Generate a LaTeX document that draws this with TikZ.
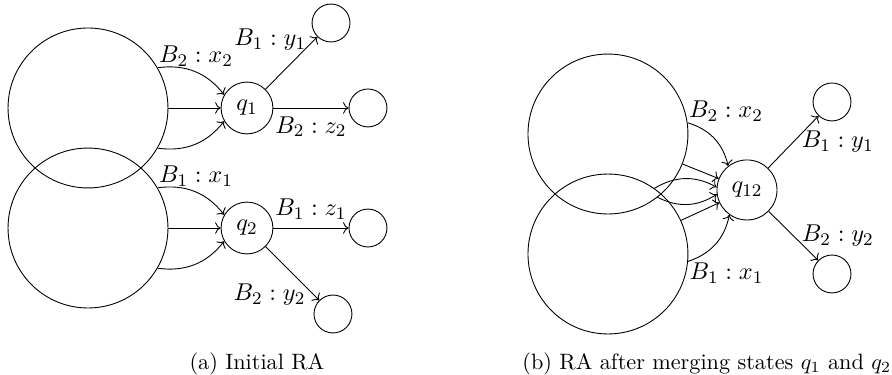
\documentclass[tikz,border=0pt,11pt]{standalone}
\usepackage{amsmath}
\usetikzlibrary{arrows.meta}

\begin{document}
\begin{tikzpicture}[
        bigstate/.style={draw, circle, minimum size=2.53cm},
        qstate/.style={draw, circle, minimum size=0.82cm, inner sep=1pt},
        sink/.style={draw, circle, minimum size=0.6cm},
        arr/.style={-{To}},
        tight/.style={inner sep=0.5pt},
        subcap/.style={font=\small}
]
    \useasboundingbox (0,0) rectangle (14.11,-5.93);

    % (a) initial automaton
    \node[bigstate] (big1) at (1.392,-1.708) {};
    \node[bigstate] (big2) at (1.392,-3.607) {};
    \node[qstate] (q1) at (3.907,-1.708) {$q_1$};
    \node[qstate] (q2) at (3.907,-3.607) {$q_2$};
    \node[sink] (t1) at (5.236,-0.364) {};
    \node[sink] (t2) at (5.821,-1.708) {};
    \node[sink] (t3) at (5.821,-3.607) {};
    \node[sink] (t4) at (5.267,-4.967) {};

    \draw[arr] (big1) to[bend left] node[pos=0, above right, tight] {$B_2: x_2$} (q1);
    \draw[arr] (big1) -- (q1);
    \draw[arr] (big1) to[bend right] (q1);
    \draw[arr] (big2) to[bend left] node[pos=0, above right, tight] {$B_1: x_1$} (q2);
    \draw[arr] (big2) -- (q2);
    \draw[arr] (big2) to[bend right] (q2);
    \draw[arr] (q1) -- node[pos=0.95, left] {$B_1: y_1$} (t1);
    \draw[arr] (q1) -- node[below] {$B_2: z_2$} (t2);
    \draw[arr] (q2) -- node[above] {$B_1: z_1$} (t3);
    \draw[arr] (q2) -- node[pos=0.9, left] {$B_2: y_2$} (t4);

    \node[subcap] (capA) at (4.065,-5.758) {(a) Initial RA};

    % (b) after merging
    \node[bigstate] (bigA) at (9.617,-2.120) {};
    \node[bigstate] (bigB) at (9.617,-4.018) {};
    \node[qstate, minimum size=0.95cm] (q12) at (11.816,-3.005) {$q_{12}$};
    \node[sink] (s1) at (13.161,-1.613) {};
    \node[sink] (s2) at (13.161,-4.334) {};

    \draw[arr] (bigA) to[bend left] node[pos=0, above right, tight] {$B_2: x_2$} (q12);
    \draw[arr] (bigA) -- (q12);
    \draw[arr] (bigA) to[bend right] (q12);
    \draw[arr] (bigB) to[bend left] (q12);
    \draw[arr] (bigB) -- (q12);
    \draw[arr] (bigB) to[bend right] node[pos=0, below right, tight] {$B_1: x_1$} (q12);
    \draw[arr] (q12) -- node[right] {$B_1: y_1$} (s1);
    \draw[arr] (q12) -- node[right] {$B_2: y_2$} (s2);

    \node[subcap] (capB) at (11.18,-5.758) {(b) RA after merging states $q_1$ and $q_2$};
\end{tikzpicture}
\end{document}
